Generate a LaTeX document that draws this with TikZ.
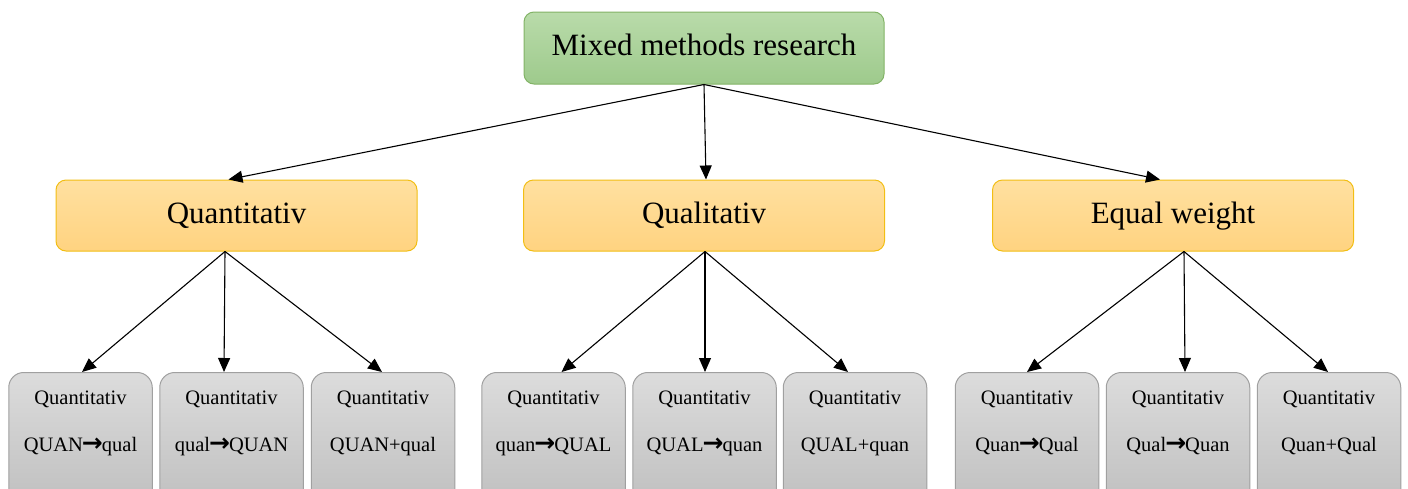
\documentclass[tikz,border=0pt]{standalone}
\usepackage{fontspec}
\setmainfont{Liberation Serif}
\newfontfamily\symfont{DejaVu Sans}
\usetikzlibrary{arrows.meta}
\definecolor{greenTop}{RGB}{185,219,170}
\definecolor{greenBot}{RGB}{158,202,140}
\definecolor{greenLine}{RGB}{130,179,102}
\definecolor{orangeTop}{RGB}{255,224,160}
\definecolor{orangeBot}{RGB}{255,211,128}
\definecolor{orangeLine}{RGB}{242,190,20}
\definecolor{grayTop}{RGB}{220,220,220}
\definecolor{grayBot}{RGB}{190,190,190}
\definecolor{grayLine}{RGB}{160,160,160}
% heavy arrow used between the phase names
\newcommand{\arr}{{\symfont\bfseries\fontsize{25}{25}\selectfont\kern-1pt→\kern-1pt}}
\tikzset{
  box/.style={rectangle, rounded corners=10pt, line width=1pt, minimum width=360pt,
    minimum height=72pt, text height=21.5pt, text depth=6pt,
    font=\fontsize{31}{36}\selectfont},
  rootbox/.style={box, draw=greenLine, top color=greenTop, bottom color=greenBot},
  midbox/.style={box, draw=orangeLine, top color=orangeTop, bottom color=orangeBot,
    minimum width=361pt, minimum height=71pt},
  leafbox/.style={rectangle, rounded corners=15pt, line width=1pt, draw=grayLine,
    top color=grayTop, bottom color=grayBot, minimum width=143.5pt,
    minimum height=140pt, anchor=north},
  leaflabel/.style={anchor=north, inner sep=0pt, align=center,
    font=\fontsize{20.5}{47}\selectfont},
  link/.style={line width=1.1pt, -{Triangle[length=14pt,width=12pt]}}
}
\begin{document}
\begin{tikzpicture}[x=1pt,y=-1pt]
  \useasboundingbox (0,0) rectangle (1408,488);
  \clip (0,0) rectangle (1408,488);

  % root and the three weighting strategies
  \node[rootbox] (root) at (704,48) {Mixed methods research};
  \node[midbox] (quant) at (236.5,215.5) {Quantitativ};
  \node[midbox] (qual)  at (704,215.5)   {Qualitativ};
  \node[midbox] (equal) at (1173,215.5)  {Equal weight};

  % design variants (boxes run past the lower edge)
  \foreach \nm/\x in {a1/80.5, a2/231.5, a3/383,
                      b1/553.5, b2/704.5, b3/855,
                      c1/1027, c2/1178, c3/1329}{
    \node[leafbox] (\nm) at (\x,372) {};
  }
  \node[leaflabel] (la1) at ([yshift=-19pt]a1.north) {Quantitativ\\QUAN\arr qual};
  \node[leaflabel] (la2) at ([yshift=-19pt]a2.north) {Quantitativ\\qual\arr QUAN};
  \node[leaflabel] (la3) at ([yshift=-19pt]a3.north) {Quantitativ\\QUAN+qual};
  \node[leaflabel] (lb1) at ([yshift=-19pt]b1.north) {Quantitativ\\quan\arr QUAL};
  \node[leaflabel] (lb2) at ([yshift=-19pt]b2.north) {Quantitativ\\QUAL\arr quan};
  \node[leaflabel] (lb3) at ([yshift=-19pt]b3.north) {Quantitativ\\QUAL+quan};
  \node[leaflabel] (lc1) at ([yshift=-19pt]c1.north) {Quantitativ\\Quan\arr Qual};
  \node[leaflabel] (lc2) at ([yshift=-19pt]c2.north) {Quantitativ\\Qual\arr Quan};
  \node[leaflabel] (lc3) at ([yshift=-19pt]c3.north) {Quantitativ\\Quan+Qual};

  % connectors
  \draw[link] (root.south) -- ([xshift=-8pt]quant.north);
  \draw[link] (root.south) -- ([xshift=2pt]qual.north);
  \draw[link] (root.south) -- ([xshift=-13pt]equal.north);

  \draw[link] ([xshift=-11.5pt]quant.south) -- ([xshift=1.5pt]a1.north);
  \draw[link] ([xshift=-11.5pt]quant.south) -- ([xshift=-7.5pt]a2.north);
  \draw[link] ([xshift=-11.5pt]quant.south) -- ([xshift=-1pt]a3.north);

  \draw[link] ([xshift=1pt]qual.south) -- ([xshift=8pt]b1.north);
  \draw[link] ([xshift=1pt]qual.south) -- ([xshift=0.5pt]b2.north);
  \draw[link] ([xshift=1pt]qual.south) -- ([xshift=-7pt]b3.north);

  \draw[link] ([xshift=11pt]equal.south) -- ([xshift=0pt]c1.north);
  \draw[link] ([xshift=11pt]equal.south) -- ([xshift=7pt]c2.north);
  \draw[link] ([xshift=11pt]equal.south) -- ([xshift=-1pt]c3.north);
\end{tikzpicture}
\end{document}
